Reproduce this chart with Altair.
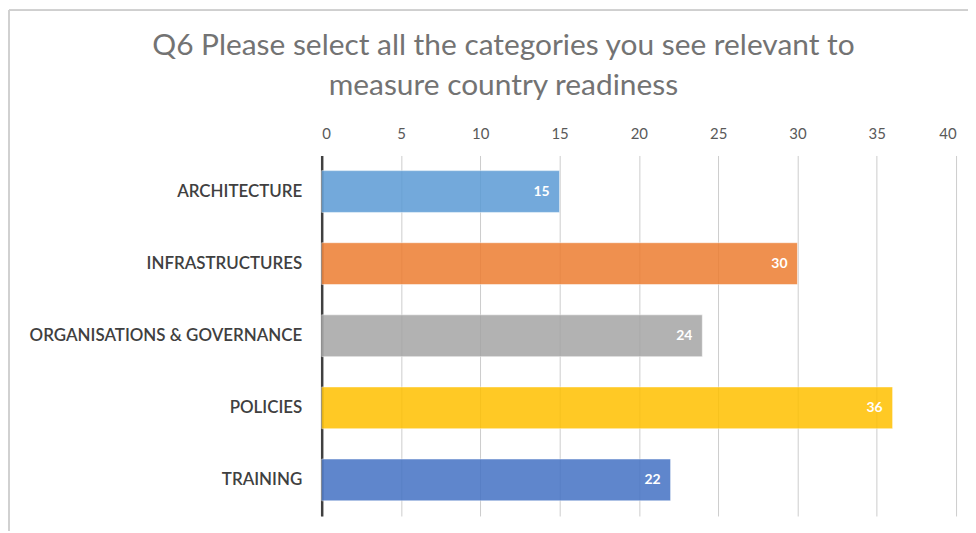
import altair as alt
import pandas as pd

categories = ["ARCHITECTURE", "INFRASTRUCTURES", "ORGANISATIONS & GOVERNANCE", "POLICIES", "TRAINING"]
values = [15, 30, 24, 36, 22]
colors = ["#5B9BD5", "#ED7D31", "#A5A5A5", "#FFC000", "#4472C4"]
x_ticks = [0, 5, 10, 15, 20, 25, 30, 35, 40]
title_lines = ["Q6 Please select all the categories you see relevant to", "measure country readiness"]

df = pd.DataFrame({"category": categories, "value": values})

FONT = "Lato"

y_enc = alt.Y("category:N", sort=categories, title=None,
              scale=alt.Scale(paddingInner=0.42, paddingOuter=0.21),
              axis=alt.Axis(domainColor="#404040", domainWidth=2.5, ticks=False,
                            labelColor="#404040", labelFontSize=17, labelFontWeight=600,
                            labelFont=FONT, labelPadding=20, labelLimit=400, grid=False))
x_enc = alt.X("value:Q", title=None,
              scale=alt.Scale(domain=[0, 40]),
              axis=alt.Axis(orient="top", values=x_ticks, domain=False, ticks=False,
                            labelColor="#595959", labelFontSize=15, labelFont=FONT,
                            labelPadding=14, gridColor="#CDCDCD", gridWidth=1))

bars = alt.Chart(df).mark_bar(opacity=0.85, stroke="white", strokeOpacity=0.5, strokeWidth=1).encode(
    x=x_enc,
    y=y_enc,
    color=alt.Color("category:N", scale=alt.Scale(domain=categories, range=colors), legend=None),
)

labels = alt.Chart(df).mark_text(align="right", dx=-10, color="white", fontSize=14,
                                  fontWeight="bold", font=FONT).encode(
    x="value:Q",
    y=alt.Y("category:N", sort=categories),
    text="value:Q",
)

frame = alt.Chart(df).mark_rect(fill=None, stroke="#D0D0D0", strokeWidth=1).encode(
    x=alt.value(-314), x2=alt.value(720), y=alt.value(-146), y2=alt.value(420)
)

chart = alt.layer(frame, bars, labels).properties(
    width=637, height=362,
    autosize=alt.AutoSizeParams(type="none"),
    padding={"left": 315, "top": 147, "right": 12, "bottom": 14},
    title=alt.TitleParams(title_lines, anchor="middle", dx=-136, dy=114, fontSize=30,
                          fontWeight="normal", color="#737373", font=FONT,
                          lineHeight=40, offset=22),
).configure_view(stroke=None)

chart.save("out.html", embed_options={"renderer": "svg", "actions": False})
